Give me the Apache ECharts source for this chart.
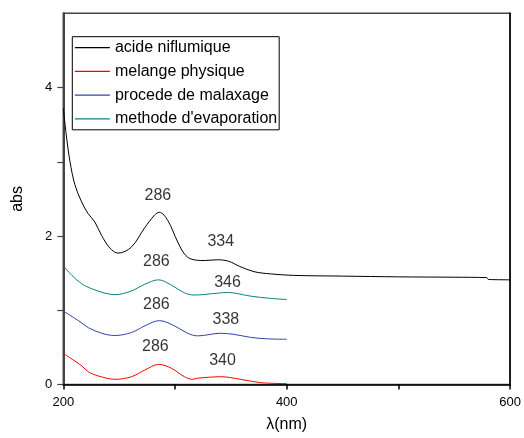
<!DOCTYPE html>
<html>
<head>
<meta charset="utf-8">
<script src="https://cdn.jsdelivr.net/npm/echarts@6/dist/echarts.min.js"></script>
<style>html,body{margin:0;padding:0;background:#fff}#c{width:524px;height:438px}</style>
</head>
<body>
<div id="c"></div>
<script>
// ---- data ----
var seriesNames = ['acide niflumique', 'melange physique', 'procede de malaxage', "methode d'evaporation"];

var nmAcide  = [200, 203, 206, 210.4, 216.4, 222.3, 228.2, 234.2, 241.6, 249, 260.9, 272.8, 281.6, 286, 293.5, 302.4, 308.4, 314.4, 326.2, 338, 348, 358, 370.7, 385.5, 406, 450, 500, 550, 579, 580.5, 600];
var absAcide = [3.72, 3.32, 3.0, 2.69, 2.46, 2.30, 2.19, 2.01, 1.84, 1.77, 1.85, 2.11, 2.28, 2.32, 2.21, 1.92, 1.76, 1.69, 1.67, 1.68, 1.66, 1.59, 1.52, 1.49, 1.47, 1.46, 1.45, 1.445, 1.44, 1.415, 1.41];

var nmMelange  = [200, 208, 216.6, 222.5, 231.4, 246.2, 261, 273, 285.3, 296.6, 308.4, 315.8, 320.3, 341, 358.8, 376.6, 400];
var absMelange = [0.42, 0.34, 0.25, 0.17, 0.115, 0.07, 0.105, 0.195, 0.27, 0.22, 0.105, 0.07, 0.085, 0.105, 0.07, 0.025, 0.012];

var nmMalax  = [200, 215, 222.5, 234.4, 246, 261, 273, 286, 299.5, 311.3, 320.3, 341, 352.9, 367.7, 382.5, 400];
var absMalax = [0.99, 0.845, 0.765, 0.69, 0.66, 0.70, 0.79, 0.86, 0.79, 0.69, 0.655, 0.69, 0.675, 0.635, 0.615, 0.61];

var nmEvap  = [200, 207.7, 216.6, 225.5, 237.3, 246.2, 261, 272.9, 285.3, 296.6, 308.4, 317, 338, 347, 367.7, 385.5, 400];
var absEvap = [1.60, 1.47, 1.355, 1.29, 1.23, 1.21, 1.26, 1.35, 1.41, 1.34, 1.235, 1.205, 1.23, 1.24, 1.19, 1.16, 1.145];

// peak annotations: label text and position in data units
var annText = ['286', '334', '286', '346', '286', '338', '286', '340'];
var annNm   = [284.7, 341, 283.3, 347, 283.3, 345.5, 282.4, 342.5];
var annAbs  = [2.55, 1.92, 1.65, 1.375, 1.07, 0.88, 0.51, 0.316];

var xTickLabels = [200, 400, 600];
var xTicks = [200, 300, 400, 500, 600];
var yTickLabels = [0, 2, 4];
var yTicks = [0, 1, 2, 3, 4];

var colors = ['#000000', '#ff0000', '#3344aa', '#118080'];

function pairs(xs, ys) { return xs.map(function (x, i) { return [x, ys[i]]; }); }

var FONT = "'Liberation Sans', Arial, sans-serif";
var chart = echarts.init(document.getElementById('c'), null, { renderer: 'canvas' });

var lineData = [pairs(nmAcide, absAcide), pairs(nmMelange, absMelange), pairs(nmMalax, absMalax), pairs(nmEvap, absEvap)];
var series = seriesNames.map(function (n, i) {
  return {
    name: n, type: 'line', data: lineData[i], smooth: 0.35, symbol: 'none',
    lineStyle: { color: colors[i], width: 1 }, itemStyle: { color: colors[i] },
    z: 3
  };
});
series.push({
  name: 'ann', type: 'scatter', symbolSize: 0, silent: true,
  data: annNm.map(function (x, i) { return { value: [x, annAbs[i]], label: { formatter: annText[i] } }; }),
  label: { show: true, position: 'inside', color: '#000', fontSize: 16, fontFamily: FONT },
  z: 4
});

chart.setOption({
  animation: false,
  backgroundColor: '#fff',
  grid: { left: 63.3, right: 11.3, top: 13.3, bottom: 53.5, show: true, borderColor: '#444', borderWidth: 1.5 },
  legend: {
    data: seriesNames.map(function (n, i) {
      return { name: n, itemStyle: { opacity: 0 }, lineStyle: { color: colors[i], width: 1.2 } };
    }),
    orient: 'vertical', left: 72.3, top: 36.7,
    padding: [3, 2], itemGap: 7.7, itemWidth: 35, itemHeight: 14,
    borderColor: '#000', borderWidth: 1, backgroundColor: '#fff',
    textStyle: { fontSize: 16, fontFamily: FONT, color: '#000' }
  },
  xAxis: {
    type: 'value', min: 200, max: 600, interval: 100,
    name: 'λ(nm)', nameLocation: 'middle', nameGap: 32,
    nameTextStyle: { fontSize: 16, fontFamily: FONT, color: '#000' },
    axisLine: { show: true, lineStyle: { color: '#000', width: 1.5 } },
    axisTick: { show: true, inside: false, length: 5, customValues: xTicks, lineStyle: { color: '#000', width: 1.5 } },
    axisLabel: { margin: 11, fontSize: 13, fontFamily: FONT, color: '#000', customValues: xTickLabels,
      formatter: function (v) { return xTickLabels.indexOf(v) >= 0 ? String(v) : ''; } },
    splitLine: { show: false }
  },
  yAxis: [{
    type: 'value', min: 0, max: 5, interval: 1,
    name: 'abs', nameLocation: 'middle', nameGap: 38, nameRotate: 90,
    nameTextStyle: { fontSize: 16, fontFamily: FONT, color: '#000' },
    axisLine: { show: true, lineStyle: { color: '#444', width: 2 } },
    axisTick: { show: true, inside: false, length: 6, customValues: yTicks, lineStyle: { color: '#444', width: 1.2 } },
    axisLabel: { margin: 11, fontSize: 13, fontFamily: FONT, color: '#000', customValues: yTickLabels,
      formatter: function (v) { return yTickLabels.indexOf(v) >= 0 ? String(v) : ''; } },
    splitLine: { show: false }
  }, {
    type: 'value', min: 0, max: 5, position: 'right',
    axisLine: { show: true, lineStyle: { color: '#000', width: 1.5 } },
    axisTick: { show: false }, axisLabel: { show: false }, splitLine: { show: false }
  }],
  series: series
});
</script>
</body>
</html>
